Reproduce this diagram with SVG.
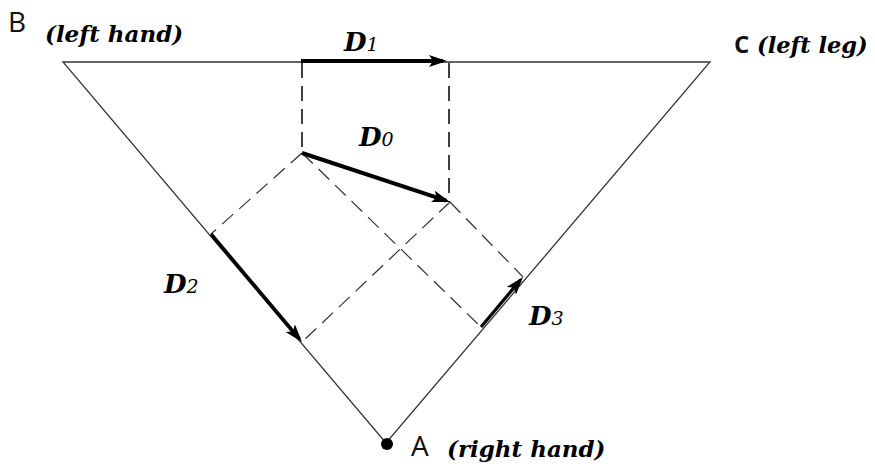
<svg xmlns="http://www.w3.org/2000/svg" width="875" height="470" viewBox="0 0 875 470">
<style>
.side{stroke:#333;stroke-width:1.3;fill:none}
.dash{stroke:#333;stroke-width:1.2;fill:none;stroke-dasharray:15 8}
.vdash{stroke:#111;stroke-width:1.6;fill:none;stroke-dasharray:15 8}
.vec{stroke:#000;fill:none}
.lbl{font-family:"DejaVu Serif","Liberation Serif",serif;font-weight:bold;font-style:italic;fill:#000}
.sub{font-weight:normal;font-size:19px}
.sans{font-family:"Open Sans","Liberation Sans",sans-serif;fill:#111}
</style>
<defs>
<marker id="ah" markerUnits="userSpaceOnUse" markerWidth="20" markerHeight="12" refX="14" refY="6" orient="auto">
<path d="M0,0 L18,6 L0,12 L4,6 Z" fill="#000"/>
</marker>
</defs>
<g id="triangle">
<polygon class="side" points="63,62 710,62 386,443"/>
<circle cx="387" cy="444" r="6" fill="#000"/>
</g>
<g id="connectors">
<line class="vdash" x1="302" y1="63" x2="302" y2="153"/>
<line class="vdash" x1="449" y1="63" x2="449" y2="202"/>
<line class="dash" x1="302" y1="153" x2="211" y2="234"/>
<line class="dash" x1="302" y1="153" x2="481" y2="327"/>
<line class="dash" x1="450" y1="202" x2="302" y2="342"/>
<line class="dash" x1="450" y1="202" x2="523" y2="277"/>
<line class="vec" stroke-width="4" x1="301" y1="61" x2="443" y2="61" marker-end="url(#ah)"/>
<line class="vec" stroke-width="4" x1="302" y1="153" x2="446.2" y2="200.7" marker-end="url(#ah)"/>
<line class="vec" stroke-width="3.5" x1="211" y1="234" x2="299.4" y2="338.9" marker-end="url(#ah)"/>
<line class="vec" stroke-width="3.2" x1="481" y1="327" x2="520.4" y2="280.1" marker-end="url(#ah)"/>
</g>
<g id="labels">
<text class="sans" x="8" y="32" font-size="28">B</text>
<text class="lbl" x="45" y="42" font-size="23">(left hand)</text>
<text class="sans" x="734" y="53" font-size="24" font-weight="bold">C</text>
<text class="lbl" x="757" y="53" font-size="22.5">(left leg)</text>
<text class="sans" x="411" y="456" font-size="28">A</text>
<text class="lbl" x="447" y="457" font-size="23">(right hand)</text>
<text class="lbl" x="344" y="51" font-size="26">D<tspan class="sub">1</tspan></text>
<text class="lbl" x="359" y="146" font-size="26">D<tspan class="sub">0</tspan></text>
<text class="lbl" x="164" y="293" font-size="26">D<tspan class="sub">2</tspan></text>
<text class="lbl" x="529" y="325" font-size="26">D<tspan class="sub">3</tspan></text>
</g>
</svg>
